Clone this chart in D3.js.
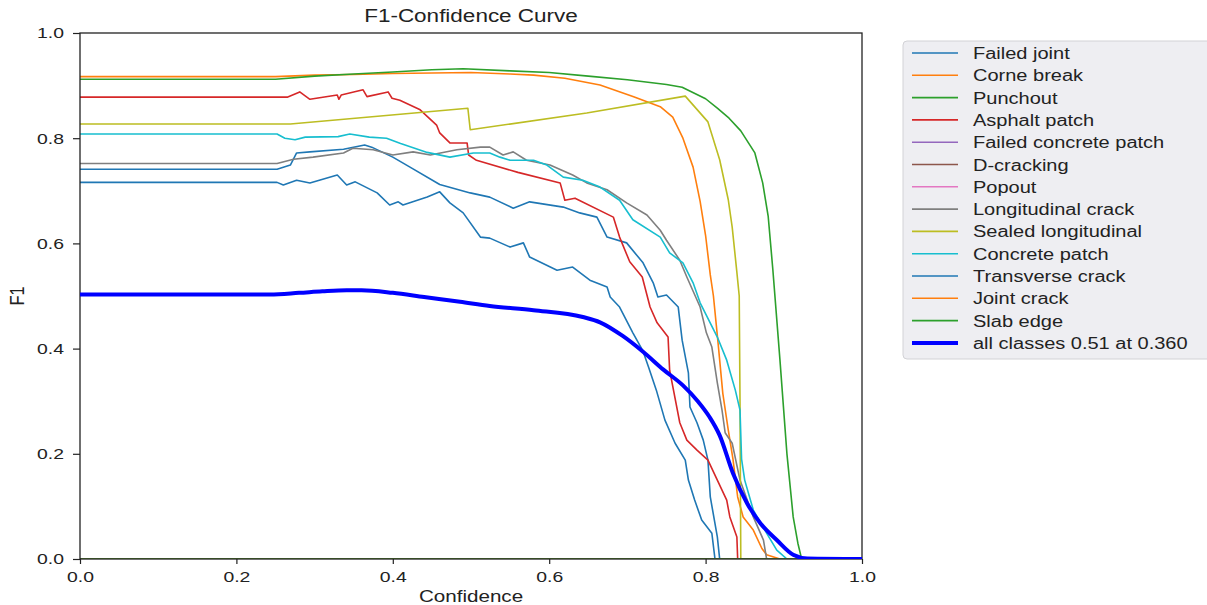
<!DOCTYPE html>
<html>
<head>
<meta charset="utf-8">
<script src="https://cdn.jsdelivr.net/npm/d3@7/dist/d3.min.js"></script>
<style>
  body { margin: 0; background: #fff; }
  text { font-family: "Liberation Sans", Arial, sans-serif; fill: #222; }
</style>
</head>
<body>
<div id="chart"></div>
<script>
// class names + matplotlib tab10 colours, same order as the legend
var classNames = ['Failed joint', 'Corne break', 'Punchout', 'Asphalt patch', 'Failed concrete patch',
    'D-cracking', 'Popout', 'Longitudinal crack', 'Sealed longitudinal', 'Concrete patch',
    'Transverse crack', 'Joint crack', 'Slab edge'];
var classColors = ['#1f77b4', '#ff7f0e', '#2ca02c', '#d62728', '#9467bd', '#8c564b', '#e377c2',
    '#7f7f7f', '#bcbd22', '#17becf', '#1f77b4', '#ff7f0e', '#2ca02c'];
var xTicks = [0, 0.2, 0.4, 0.6, 0.8, 1.0];
var yTicks = [0, 0.2, 0.4, 0.6, 0.8, 1.0];

// [confidence, F1] pairs
var failedJoint = [[0,0.741],[0.252,0.741],[0.269,0.749],[0.277,0.772],[0.294,0.774],[0.337,0.779],[0.364,0.787],
    [0.373,0.783],[0.4,0.764],[0.422,0.745],[0.46,0.712],[0.499,0.696],[0.524,0.688],[0.554,0.667],[0.575,0.679],
    [0.618,0.669],[0.639,0.658],[0.661,0.65],[0.674,0.612],[0.699,0.601],[0.72,0.563],[0.733,0.525],[0.739,0.498],
    [0.75,0.502],[0.765,0.479],[0.77,0.416],[0.778,0.354],[0.78,0.289],[0.789,0.259],[0.797,0.226],[0.803,0.188],
    [0.806,0.118],[0.815,0.042],[0.818,0],[1,0]];
var corneBreak = [[0,0.917],[0.25,0.917],[0.3,0.92],[0.35,0.921],[0.4,0.923],[0.45,0.924],[0.5,0.925],[0.55,0.922],
    [0.58,0.92],[0.62,0.914],[0.665,0.901],[0.708,0.879],[0.742,0.86],[0.758,0.84],[0.771,0.8],[0.784,0.745],
    [0.793,0.68],[0.8,0.615],[0.806,0.54],[0.81,0.5],[0.816,0.41],[0.822,0.315],[0.829,0.245],[0.835,0.19],
    [0.841,0.118],[0.848,0.08],[0.861,0.055],[0.872,0.02],[0.878,0.008],[0.895,0],[1,0]];
var punchout = [[0,0.912],[0.25,0.912],[0.3,0.918],[0.35,0.922],[0.4,0.926],[0.45,0.93],[0.49,0.932],[0.55,0.928],
    [0.6,0.925],[0.65,0.918],[0.7,0.911],[0.75,0.902],[0.77,0.897],[0.8,0.875],[0.815,0.857],[0.83,0.838],
    [0.845,0.814],[0.863,0.772],[0.873,0.715],[0.88,0.652],[0.886,0.55],[0.895,0.38],[0.904,0.2],[0.912,0.08],
    [0.918,0.03],[0.922,0.005],[0.925,0],[1,0]];
var asphaltPatch = [[0,0.878],[0.265,0.878],[0.281,0.888],[0.294,0.874],[0.329,0.882],[0.331,0.874],[0.334,0.882],
    [0.362,0.892],[0.367,0.879],[0.394,0.888],[0.399,0.876],[0.409,0.872],[0.435,0.854],[0.456,0.825],[0.46,0.81],
    [0.473,0.791],[0.495,0.791],[0.497,0.768],[0.507,0.758],[0.56,0.735],[0.614,0.715],[0.62,0.682],[0.633,0.686],
    [0.682,0.65],[0.69,0.612],[0.703,0.565],[0.719,0.536],[0.729,0.479],[0.738,0.449],[0.752,0.422],[0.754,0.359],
    [0.767,0.259],[0.776,0.226],[0.789,0.207],[0.803,0.188],[0.815,0.15],[0.827,0.112],[0.831,0.08],[0.84,0.042],
    [0.841,0],[1,0]];
var failedConcretePatch = [[0,0],[1,0]];
var dCracking = [[0,0],[1,0]];
var popout = [[0,0],[1,0]];
var longitudinalCrack = [[0,0.752],[0.252,0.752],[0.273,0.76],[0.298,0.764],[0.337,0.772],[0.349,0.781],[0.375,0.778],
    [0.4,0.768],[0.426,0.774],[0.448,0.768],[0.482,0.778],[0.512,0.783],[0.524,0.783],[0.541,0.768],[0.554,0.774],
    [0.571,0.758],[0.601,0.749],[0.63,0.73],[0.648,0.715],[0.674,0.702],[0.699,0.677],[0.725,0.654],[0.742,0.625],
    [0.75,0.606],[0.767,0.568],[0.776,0.536],[0.793,0.479],[0.801,0.43],[0.808,0.403],[0.815,0.335],[0.821,0.283],
    [0.825,0.24],[0.834,0.22],[0.844,0.15],[0.861,0.08],[0.874,0.036],[0.878,0],[1,0]];
var sealedLongitudinal = [[0,0.827],[0.269,0.827],[0.496,0.857],[0.499,0.816],[0.648,0.848],[0.774,0.88],[0.803,0.831],
    [0.818,0.759],[0.829,0.683],[0.834,0.631],[0.84,0.545],[0.843,0.5],[0.844,0.3],[0.845,0],[1,0]];
var concretePatch = [[0,0.808],[0.252,0.808],[0.262,0.8],[0.275,0.797],[0.288,0.802],[0.33,0.803],[0.345,0.808],
    [0.37,0.802],[0.392,0.8],[0.41,0.79],[0.444,0.773],[0.473,0.764],[0.503,0.772],[0.524,0.772],[0.537,0.764],
    [0.55,0.758],[0.58,0.758],[0.597,0.749],[0.618,0.726],[0.643,0.72],[0.665,0.707],[0.69,0.682],[0.707,0.645],
    [0.742,0.612],[0.754,0.582],[0.771,0.563],[0.784,0.525],[0.793,0.487],[0.815,0.422],[0.827,0.378],[0.838,0.321],
    [0.844,0.283],[0.846,0.19],[0.85,0.15],[0.861,0.093],[0.878,0.049],[0.891,0.017],[0.904,0],[1,0]];
var transverseCrack = [[0,0.716],[0.252,0.716],[0.26,0.711],[0.277,0.72],[0.294,0.715],[0.329,0.73],[0.341,0.711],
    [0.352,0.717],[0.38,0.696],[0.396,0.673],[0.407,0.679],[0.413,0.673],[0.444,0.688],[0.46,0.698],[0.473,0.677],
    [0.49,0.658],[0.512,0.612],[0.524,0.61],[0.55,0.593],[0.567,0.601],[0.575,0.574],[0.61,0.549],[0.63,0.555],
    [0.652,0.53],[0.674,0.517],[0.678,0.498],[0.69,0.479],[0.707,0.43],[0.72,0.395],[0.727,0.365],[0.737,0.321],
    [0.748,0.264],[0.761,0.22],[0.774,0.188],[0.778,0.15],[0.786,0.112],[0.795,0.074],[0.808,0.049],[0.812,0],[1,0]];
var jointCrack = [[0,0],[1,0]];
var slabEdge = [[0,0],[1,0]];
var allClasses = [[0,0.503],[0.243,0.503],[0.28,0.506],[0.31,0.509],[0.341,0.511],[0.36,0.511],[0.4,0.506],
    [0.44,0.498],[0.486,0.489],[0.524,0.481],[0.58,0.473],[0.643,0.46],[0.665,0.45],[0.694,0.424],[0.72,0.394],
    [0.746,0.36],[0.771,0.33],[0.79,0.3],[0.805,0.27],[0.818,0.235],[0.835,0.163],[0.853,0.106],[0.87,0.068],
    [0.891,0.036],[0.912,0.008],[0.93,0.001],[1,0]];
var allLabel = 'all classes 0.51 at 0.360';

var classSeries = [failedJoint, corneBreak, punchout, asphaltPatch, failedConcretePatch, dCracking, popout,
    longitudinalCrack, sealedLongitudinal, concretePatch, transverseCrack, jointCrack, slabEdge];

var width = 1207, height = 605,
    plot = { left: 80, right: 862, top: 33, bottom: 559 },
    stretch = 'scale(1.25,1)';   // the picture is a bit wider than it is tall, so is the text

var svg = d3.select('#chart').append('svg')
    .attr('width', width)
    .attr('height', height);

var x = d3.scaleLinear().domain([0, 1]).range([plot.left, plot.right]),
    y = d3.scaleLinear().domain([0, 1]).range([plot.bottom, plot.top]);

svg.append('clipPath').attr('id', 'plot-clip')
    .append('rect')
    .attr('x', plot.left).attr('y', plot.top)
    .attr('width', plot.right - plot.left).attr('height', plot.bottom - plot.top);

var line = d3.line().x(function (d) { return x(d[0]); }).y(function (d) { return y(d[1]); });
var smooth = d3.line().curve(d3.curveMonotoneX).x(function (d) { return x(d[0]); }).y(function (d) { return y(d[1]); });

var lines = svg.append('g').attr('clip-path', 'url(#plot-clip)');
classSeries.forEach(function (s, i) {
    lines.append('path')
        .attr('d', line(s))
        .attr('fill', 'none')
        .attr('stroke', classColors[i])
        .attr('stroke-width', 1.6)
        .attr('stroke-linejoin', 'round');
});

// axes
var xAxis = svg.append('g')
    .attr('transform', 'translate(0,' + plot.bottom + ')')
    .call(d3.axisBottom(x).tickValues(xTicks).tickFormat(d3.format('.1f')).tickSize(5).tickPadding(7));
var yAxis = svg.append('g')
    .attr('transform', 'translate(' + plot.left + ',0)')
    .call(d3.axisLeft(y).tickValues(yTicks).tickFormat(d3.format('.1f')).tickSize(7));
[xAxis, yAxis].forEach(function (a) {
    a.select('.domain').remove();
    a.selectAll('line').attr('stroke', '#222').attr('stroke-width', 1.2);
    a.selectAll('text').style('font-size', '15.5px').style('font-family', '"Liberation Sans", Arial, sans-serif').attr('fill', '#222');
});
xAxis.selectAll('text').attr('transform', stretch);
yAxis.selectAll('text').attr('x', 0).attr('transform', 'translate(-16,0) ' + stretch);

// frame on top of the class curves
svg.append('rect')
    .attr('x', plot.left).attr('y', plot.top)
    .attr('width', plot.right - plot.left).attr('height', plot.bottom - plot.top)
    .attr('fill', 'none').attr('stroke', '#222').attr('stroke-width', 1.3);

svg.append('path')
    .attr('clip-path', 'url(#plot-clip)')
    .attr('d', smooth(allClasses))
    .attr('fill', 'none')
    .attr('stroke', '#0000ff')
    .attr('stroke-width', 4);

// title and labels
svg.append('text')
    .attr('transform', 'translate(' + ((plot.left + plot.right) / 2) + ',22) ' + stretch)
    .attr('text-anchor', 'middle')
    .style('font-size', '18px')
    .text('F1-Confidence Curve');
svg.append('text')
    .attr('transform', 'translate(' + ((plot.left + plot.right) / 2) + ',602) ' + stretch)
    .attr('text-anchor', 'middle')
    .style('font-size', '16.5px')
    .text('Confidence');
svg.append('text')
    .attr('transform', 'translate(24,' + ((plot.top + plot.bottom) / 2) + ') ' + stretch + ' rotate(-90)')
    .attr('text-anchor', 'middle')
    .style('font-size', '16.5px')
    .text('F1');

// legend
var legend = svg.append('g');
legend.append('rect')
    .attr('x', 903).attr('y', 41)
    .attr('width', 330).attr('height', 318)
    .attr('rx', 4)
    .attr('fill', '#eeeef2')
    .attr('stroke', '#d2d2d6');

var legendItems = classNames.map(function (n, i) { return { name: n, color: classColors[i], w: 1.6 }; })
    .concat([{ name: allLabel, color: '#0000ff', w: 4 }]);

var rows = legend.selectAll('g.row').data(legendItems).enter().append('g')
    .attr('class', 'row')
    .attr('transform', function (d, i) { return 'translate(0,' + (53 + i * 22.3) + ')'; });
rows.append('line')
    .attr('x1', 912).attr('x2', 958)
    .attr('stroke', function (d) { return d.color; })
    .attr('stroke-width', function (d) { return d.w; });
rows.append('text')
    .attr('transform', 'translate(973,6) ' + stretch)
    .style('font-size', '16px')
    .text(function (d) { return d.name; });
</script>
</body>
</html>
